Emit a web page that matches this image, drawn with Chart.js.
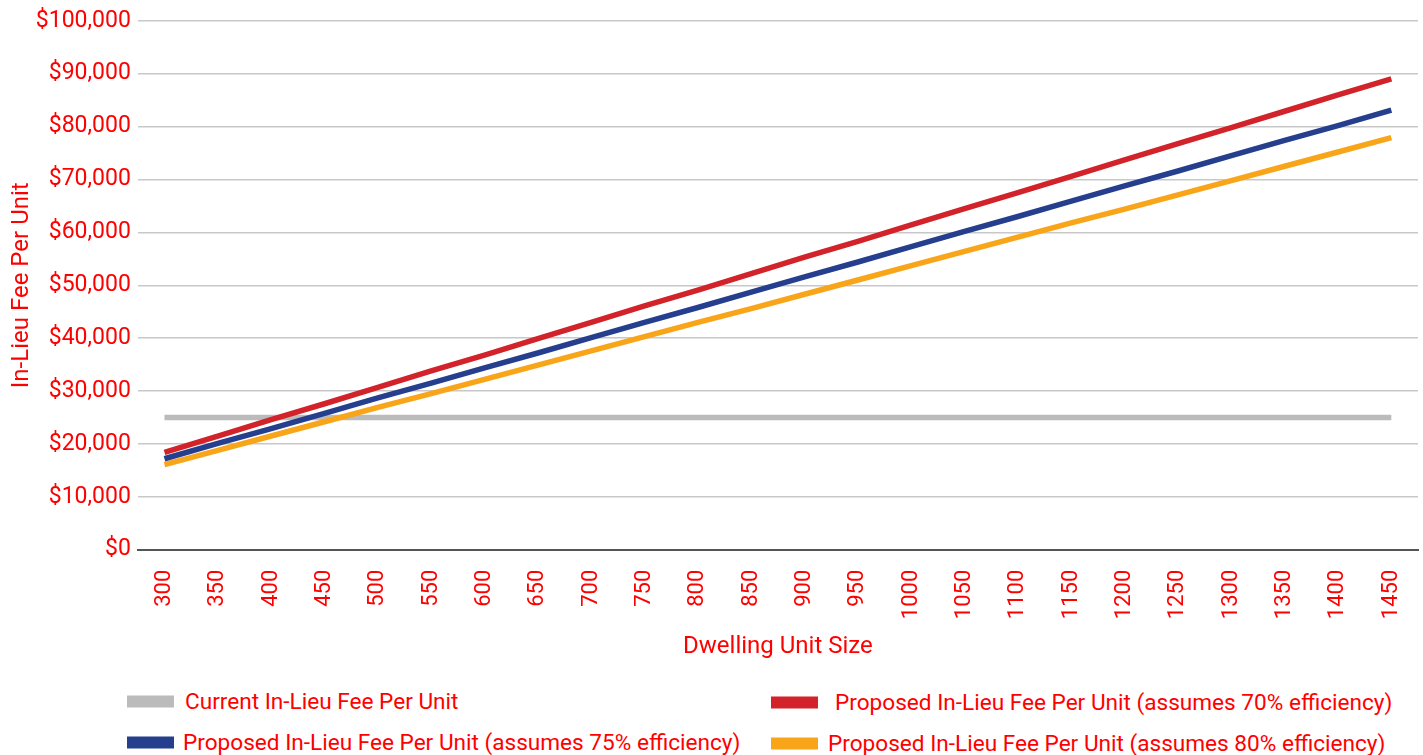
<!DOCTYPE html>
<html>
<head>
<meta charset="utf-8">
<script src="https://cdn.jsdelivr.net/npm/chart.js@4"></script>
<style>
  html, body { margin: 0; padding: 0; background: #fff; }
  #wrap { position: relative; width: 1423px; height: 665px; }
  #legend { position: relative; width: 1423px; height: 90px; font-family: Roboto, sans-serif; font-size: 22.6px; color: #ff0000; }
  .item { position: absolute; display: flex; align-items: center; white-space: nowrap; transform: translateY(-50%); }
  .item span.box { display: inline-block; width: 47px; height: 12px; }
</style>
</head>
<body>
<div id="wrap"><canvas id="feeChart"></canvas></div>
<div id="legend"></div>
<script>
// dwelling unit sizes (sq ft)
var sizes = ['300', '350', '400', '450', '500', '550', '600', '650', '700', '750', '800', '850',
             '900', '950', '1000', '1050', '1100', '1150', '1200', '1250', '1300', '1350', '1400', '1450'];

// fee per unit
var currentFee = [25000, 25000, 25000, 25000, 25000, 25000, 25000, 25000, 25000, 25000, 25000, 25000,
                  25000, 25000, 25000, 25000, 25000, 25000, 25000, 25000, 25000, 25000, 25000, 25000];
var fee70 = [18400, 21500, 24600, 27600, 30700, 33800, 36800, 39900, 43000, 46100, 49100, 52200,
             55300, 58300, 61400, 64500, 67500, 70600, 73700, 76800, 79800, 82900, 86000, 89000];
var fee75 = [17200, 20100, 22900, 25800, 28700, 31500, 34400, 37200, 40100, 43000, 45800, 48700,
             51600, 54400, 57300, 60200, 63000, 65900, 68800, 71600, 74500, 77400, 80200, 83100];
var fee80 = [16100, 18800, 21500, 24200, 26900, 29500, 32200, 34900, 37600, 40300, 43000, 45600,
             48300, 51000, 53700, 56400, 59100, 61800, 64400, 67100, 69800, 72500, 75200, 77900];

var labelCurrent = 'Current In-Lieu Fee Per Unit';
var label70 = 'Proposed In-Lieu Fee Per Unit (assumes 70% efficiency)';
var label75 = 'Proposed In-Lieu Fee Per Unit (assumes 75% efficiency)';
var label80 = 'Proposed In-Lieu Fee Per Unit (assumes 80% efficiency)';

var red = '#ff0000';
var xTickFont = { family: 'Roboto', size: 22 };
var yTickFont = { family: 'Roboto', size: 23 };
var titleFont = { family: 'Roboto', size: 24 };

function lineSet(label, data, color, order) {
    return {
        label: label,
        data: data,
        borderColor: color,
        backgroundColor: color,
        borderWidth: 5.5,
        borderCapStyle: 'butt',
        pointRadius: 0,
        tension: 0,
        fill: false,
        order: order
    };
}

var chart = new Chart(document.getElementById('feeChart'), {
    type: 'line',
    data: {
        labels: sizes,
        datasets: [
            lineSet(labelCurrent, currentFee, '#bbbbbb', 10),
            lineSet(label70, fee70, '#d2232a', 1),
            lineSet(label75, fee75, '#253f8e', 2),
            lineSet(label80, fee80, '#f9a51a', 3)
        ]
    },
    options: {
        responsive: true,
        maintainAspectRatio: false,
        animation: false,
        layout: { padding: { top: 7, right: 5, left: 8, bottom: 4 } },
        plugins: {
            legend: { display: false },
            tooltip: { enabled: false }
        },
        scales: {
            x: {
                offset: true,
                grid: { display: false, drawTicks: false },
                border: { display: true, color: '#555555', width: 2 },
                ticks: { color: red, font: xTickFont, minRotation: 90, maxRotation: 90, padding: 20, autoSkip: false },
                title: { display: true, text: 'Dwelling Unit Size', color: red, font: titleFont, padding: { top: -7, bottom: 0 } },
                // tick padding should not widen the side margins
                afterFit: function(scale) { scale.paddingLeft = 0; scale.paddingRight = 0; }
            },
            y: {
                min: 0,
                max: 100000,
                grid: { color: '#c8c8c8', lineWidth: 1.5, drawTicks: false },
                border: { display: false },
                ticks: {
                    stepSize: 10000,
                    color: red,
                    font: yTickFont,
                    padding: 7,
                    callback: function(v) { return '$' + v.toLocaleString('en-US'); }
                },
                title: { display: true, text: 'In-Lieu Fee Per Unit', color: red, font: titleFont, padding: { top: 0, bottom: -8 } }
            }
        }
    }
});

// two-column legend below the chart (vertical centres relative to legend top)
var legendPos = [
    { left: 127, mid: 36, gap: 11 },
    { left: 771, mid: 37, gap: 17 },
    { left: 127, mid: 77, gap: 9 },
    { left: 771, mid: 78, gap: 10 }
];
var legendEl = document.getElementById('legend');
chart.data.datasets.forEach(function(ds, i) {
    var item = document.createElement('div');
    item.className = 'item';
    item.style.left = legendPos[i].left + 'px';
    item.style.top = legendPos[i].mid + 'px';
    item.innerHTML = '<span class="box" style="background:' + ds.borderColor + ';margin-right:' +
        legendPos[i].gap + 'px"></span>' + ds.label;
    legendEl.appendChild(item);
});
</script>
</body>
</html>
